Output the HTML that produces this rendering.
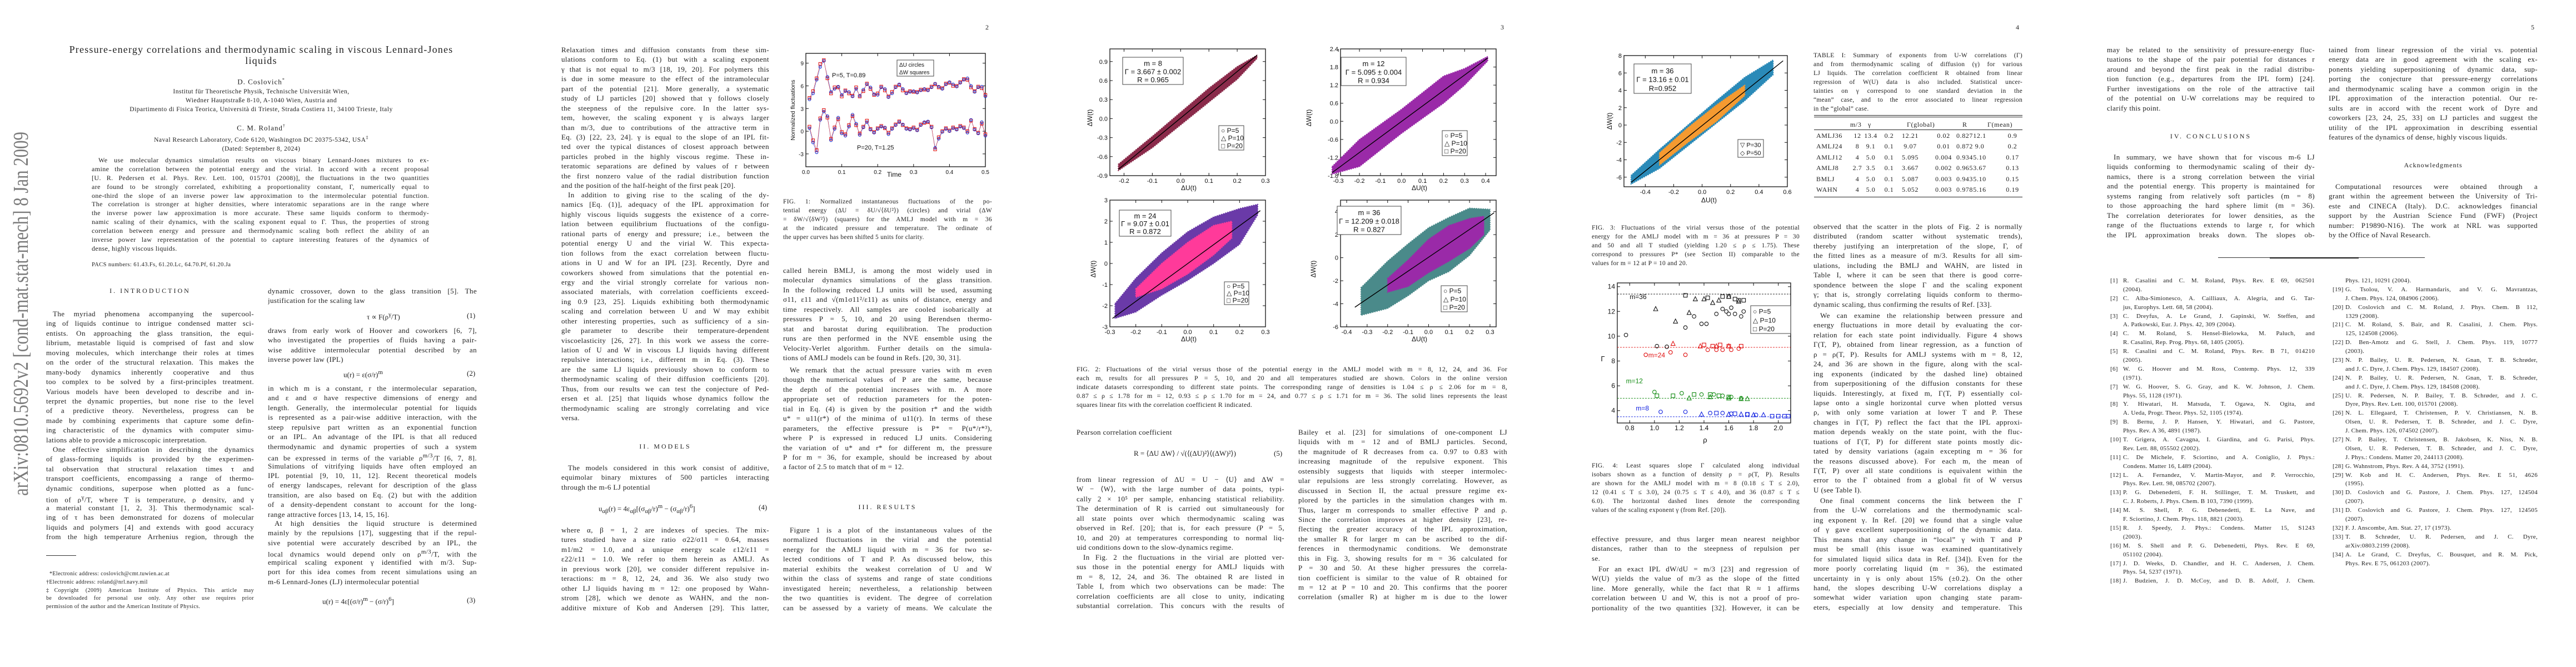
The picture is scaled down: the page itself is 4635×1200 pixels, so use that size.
<!DOCTYPE html>
<html><head><meta charset="utf-8"><title>Pressure-energy correlations and thermodynamic scaling in viscous Lennard-Jones liquids</title>
<style>
body{margin:0;width:4635px;height:1200px;position:relative;background:#fff;overflow:hidden;font-family:"Liberation Serif",serif;color:#1e1e1e}
.pg{position:absolute;top:0;width:927px;height:1200px}
.b{position:absolute;font-size:13px;letter-spacing:.4px;line-height:17.45px}
.b span{display:block;height:17.45px;overflow:hidden;text-align:justify;text-align-last:justify}
.b span.e{text-align-last:left}
.b span.i{text-indent:12px}
.L{left:83px;width:374px}.R{left:482px;width:376px}
.cap{font-size:11.5px;line-height:16px;letter-spacing:.3px}
.cap span{height:16px}
.ref{font-size:11px;line-height:15.9px;letter-spacing:.3px}
.ref span{height:15.9px;overflow:visible;position:relative}
.ref b{font-weight:normal;position:absolute;left:-23px}
.c{position:absolute;text-align:center;white-space:nowrap}
.h{position:absolute;font-size:12px;letter-spacing:3px;text-align:center;white-space:nowrap}
.eq{position:absolute;font-size:13px;white-space:nowrap}
.pn{position:absolute;left:846px;top:42px;font-size:12px}
.tb{position:absolute;font-size:12px;letter-spacing:.6px;white-space:nowrap}
</style></head>
<body>

<!-- PAGE 1 -->
<div class="pg" style="left:0">
<svg style="position:absolute;left:0;top:0" width="80" height="1200"><text x="50" y="892" transform="rotate(-90 50 892)" font-family="Liberation Serif" font-size="38" fill="#7a7a7a" textLength="655" lengthAdjust="spacingAndGlyphs">arXiv:0810.5692v2  [cond-mat.stat-mech]  8 Jan 2009</text></svg>
<div class="c" style="left:0;width:940px;top:79px;font-size:18px;letter-spacing:1.2px;line-height:20px">Pressure-energy correlations and thermodynamic scaling in viscous Lennard-Jones<br>liquids</div>
<div class="c" style="left:0;width:940px;top:139px;font-size:13px;letter-spacing:1px">D. Coslovich<sup style="font-size:8px">*</sup></div>
<div class="c" style="left:0;width:940px;top:157px;font-size:11.5px;letter-spacing:.5px;line-height:16px">Institut für Theoretische Physik, Technische Universität Wien,<br>Wiedner Hauptstraße 8-10, A-1040 Wien, Austria and<br>Dipartimento di Fisica Teorica, Università di Trieste, Strada Costiera 11, 34100 Trieste, Italy</div>
<div class="c" style="left:0;width:940px;top:222px;font-size:13px;letter-spacing:1px">C. M. Roland<sup style="font-size:8px">†</sup></div>
<div class="c" style="left:0;width:940px;top:240px;font-size:11.5px;letter-spacing:.5px;line-height:16px">Naval Research Laboratory, Code 6120, Washington DC 20375-5342, USA<sup style="font-size:8px">‡</sup><br>(Dated: September 8, 2024)</div>
<div class="b" style="left:165px;width:607px;top:281px;font-size:12px;line-height:15.9px">
<span class="i" style="height:15.9px">We use molecular dynamics simulation results on viscous binary Lennard-Jones mixtures to ex-</span>
<span style="height:15.9px">amine the correlation between the potential energy and the virial. In accord with a recent proposal</span>
<span style="height:15.9px">[U. R. Pedersen et al. Phys. Rev. Lett. 100, 015701 (2008)], the fluctuations in the two quantities</span>
<span style="height:15.9px">are found to be strongly correlated, exhibiting a proportionality constant, Γ, numerically equal to</span>
<span style="height:15.9px">one-third the slope of an inverse power law approximation to the intermolecular potential function.</span>
<span style="height:15.9px">The correlation is stronger at higher densities, where interatomic separations are in the range where</span>
<span style="height:15.9px">the inverse power law approximation is more accurate. These same liquids conform to thermody-</span>
<span style="height:15.9px">namic scaling of their dynamics, with the scaling exponent equal to Γ. Thus, the properties of strong</span>
<span style="height:15.9px">correlation between energy and pressure and thermodynamic scaling both reflect the ability of an</span>
<span style="height:15.9px">inverse power law representation of the potential to capture interesting features of the dynamics of</span>
<span class="e" style="height:15.9px">dense, highly viscous liquids.</span>
</div>
<div class="eq" style="left:165px;top:471px;font-size:10.5px;letter-spacing:.4px">PACS numbers: 61.43.Fs, 61.20.Lc, 64.70.Pf, 61.20.Ja</div>
<div class="h" style="left:83px;width:374px;top:516px">I. INTRODUCTION</div>
<div class="b L" style="top:556px">
<span class="i">The myriad phenomena accompanying the supercool-</span>
<span>ing of liquids continue to intrigue condensed matter sci-</span>
<span>entists. On approaching the glass transition, the equi-</span>
<span>librium, metastable liquid is comprised of fast and slow</span>
<span>moving molecules, which interchange their roles at times</span>
<span>on the order of the structural relaxation. This makes the</span>
<span>many-body dynamics inherently cooperative and thus</span>
<span>too complex to be solved by a first-principles treatment.</span>
<span>Various models have been developed to describe and in-</span>
<span>terpret the dynamic properties, but none rise to the level</span>
<span>of a predictive theory. Nevertheless, progress can be</span>
<span>made by combining experiments that capture some defin-</span>
<span>ing characteristic of the dynamics with computer simu-</span>
<span class="e">lations able to provide a microscopic interpretation.</span>
</div>
<div class="b L" style="top:800px">
<span class="i">One effective simplification in describing the dynamics</span>
<span>of glass-forming liquids is provided by the experimen-</span>
<span>tal observation that structural relaxation times τ and</span>
<span>transport coefficients, encompassing a range of thermo-</span>
<span>dynamic conditions, superpose when plotted as a func-</span>
<span>tion of ρ<sup>γ</sup>/T, where T is temperature, ρ density, and γ</span>
<span>a material constant [1, 2, 3]. This thermodynamic scal-</span>
<span>ing of τ has been demonstrated for dozens of molecular</span>
<span>liquids and polymers [4] and extends with good accuracy</span>
<span>from the high temperature Arrhenius region, through the</span>
</div>
<div style="position:absolute;left:83px;top:999px;width:54px;border-top:1px solid #333"></div>
<div class="b" style="left:83px;width:374px;top:1026px;font-size:10px;line-height:14.8px">
<span class="e" style="height:14.8px;text-indent:6px">*Electronic address: coslovich@cmt.tuwien.ac.at</span>
<span class="e" style="height:14.8px">†Electronic address: roland@nrl.navy.mil</span>
<span style="height:14.8px">‡Copyright (2009) American Institute of Physics. This article may</span>
<span style="height:14.8px">be downloaded for personal use only. Any other use requires prior</span>
<span class="e" style="height:14.8px">permission of the author and the American Institute of Physics.</span>
</div>
<div class="b R" style="top:515px">
<span>dynamic crossover, down to the glass transition [5]. The</span>
<span class="e">justification for the scaling law</span>
</div>
<div class="eq" style="left:660px;top:560px">τ ∝ F(ρ<sup>γ</sup>/T)</div>
<div class="eq" style="left:840px;top:560px">(1)</div>
<div class="b R" style="top:586px">
<span>draws from early work of Hoover and coworkers [6, 7],</span>
<span>who investigated the properties of fluids having a pair-</span>
<span>wise additive intermolecular potential described by an</span>
<span class="e">inverse power law (IPL)</span>
</div>
<div class="eq" style="left:618px;top:664px">u(r) = ε(σ/r)<sup>m</sup></div>
<div class="eq" style="left:840px;top:664px">(2)</div>
<div class="b R" style="top:690px">
<span>in which m is a constant, r the intermolecular separation,</span>
<span>and ε and σ have respective dimensions of energy and</span>
<span>length. Generally, the intermolecular potential for liquids</span>
<span>is represented as a pair-wise additive interaction, with the</span>
<span>steep repulsive part written as an exponential function</span>
<span>or an IPL. An advantage of the IPL is that all reduced</span>
<span>thermodynamic and dynamic properties of such a system</span>
<span>can be expressed in terms of the variable ρ<sup>m/3</sup>/T [6, 7, 8].</span>
<span>Simulations of vitrifying liquids have often employed an</span>
<span>IPL potential [9, 10, 11, 12]. Recent theoretical models</span>
<span>of energy landscapes, relevant for description of the glass</span>
<span>transition, are also based on Eq. (2) but with the addition</span>
<span>of a density-dependent constant to account for the long-</span>
<span class="e">range attractive forces [13, 14, 15, 16].</span>
</div>
<div class="b R" style="top:933px">
<span class="i">At high densities the liquid structure is determined</span>
<span>mainly by the repulsions [17], suggesting that if the repul-</span>
<span>sive potential were accurately described by an IPL, the</span>
<span>local dynamics would depend only on ρ<sup>m/3</sup>/T, with the</span>
<span>empirical scaling exponent γ identified with m/3. Sup-</span>
<span>port for this idea comes from recent simulations using an</span>
<span class="e">m-6 Lennard-Jones (LJ) intermolecular potential</span>
</div>
<div class="eq" style="left:580px;top:1072px">u(r) = 4ε[(σ/r)<sup>m</sup> − (σ/r)<sup>6</sup>]</div>
<div class="eq" style="left:840px;top:1072px">(3)</div>
</div>

<!-- PAGE 2 -->
<div class="pg" style="left:927px">
<div class="pn">2</div>
<div class="b L" style="top:81px">
<span>Relaxation times and diffusion constants from these sim-</span>
<span>ulations conform to Eq. (1) but with a scaling exponent</span>
<span>γ that is not equal to m/3 [18, 19, 20]. For polymers this</span>
<span>is due in some measure to the effect of the intramolecular</span>
<span>part of the potential [21]. More generally, a systematic</span>
<span>study of LJ particles [20] showed that γ follows closely</span>
<span>the steepness of the repulsive core. In the latter sys-</span>
<span>tem, however, the scaling exponent γ is always larger</span>
<span>than m/3, due to contributions of the attractive term in</span>
<span>Eq. (3) [22, 23, 24]. γ is equal to the slope of an IPL fit-</span>
<span>ted over the typical distances of closest approach between</span>
<span>particles probed in the highly viscous regime. These in-</span>
<span>teratomic separations are defined by values of r between</span>
<span>the first nonzero value of the radial distribution function</span>
<span class="e">and the position of the half-height of the first peak [20].</span>
</div>
<div class="b L" style="top:342px">
<span class="i">In addition to giving rise to the scaling of the dy-</span>
<span>namics [Eq. (1)], adequacy of the IPL approximation for</span>
<span>highly viscous liquids suggests the existence of a corre-</span>
<span>lation between equilibrium fluctuations of the configu-</span>
<span>rational parts of energy and pressure; i.e., between the</span>
<span>potential energy U and the virial W. This expecta-</span>
<span>tion follows from the exact correlation between fluctu-</span>
<span>ations in U and W for an IPL [23]. Recently, Dyre and</span>
<span>coworkers showed from simulations that the potential en-</span>
<span>ergy and the virial strongly correlate for various non-</span>
<span>associated materials, with correlation coefficients exceed-</span>
<span>ing 0.9 [23, 25]. Liquids exhibiting both thermodynamic</span>
<span>scaling and correlation between U and W may exhibit</span>
<span>other interesting properties, such as sufficiency of a sin-</span>
<span>gle parameter to describe their temperature-dependent</span>
<span>viscoelasticity [26, 27]. In this work we assess the corre-</span>
<span>lation of U and W in viscous LJ liquids having different</span>
<span>repulsive interactions; i.e., different m in Eq. (3). These</span>
<span>are the same LJ liquids previously shown to conform to</span>
<span>thermodynamic scaling of their diffusion coefficients [20].</span>
<span>Thus, from our results we can test the conjecture of Ped-</span>
<span>ersen et al. [25] that liquids whose dynamics follow the</span>
<span>thermodynamic scaling are strongly correlating and vice</span>
<span class="e">versa.</span>
</div>
<div class="h" style="left:83px;width:374px;top:796px">II. MODELS</div>
<div class="b L" style="top:833px">
<span class="i">The models considered in this work consist of additive,</span>
<span>equimolar binary mixtures of 500 particles interacting</span>
<span class="e">through the m-6 LJ potential</span>
</div>
<div class="eq" style="left:150px;top:905px">u<sub>αβ</sub>(r) = 4ε<sub>αβ</sub>[(σ<sub>αβ</sub>/r)<sup>m</sup> − (σ<sub>αβ</sub>/r)<sup>6</sup>]</div>
<div class="eq" style="left:438px;top:905px">(4)</div>
<div class="b L" style="top:945px">
<span>where α, β = 1, 2 are indexes of species. The mix-</span>
<span>tures studied have a size ratio σ22/σ11 = 0.64, masses</span>
<span>m1/m2 = 1.0, and a unique energy scale ε12/ε11 =</span>
<span>ε22/ε11 = 1.0. We refer to them herein as AMLJ. As</span>
<span>in previous work [20], we consider different repulsive in-</span>
<span>teractions: m = 8, 12, 24, and 36. We also study two</span>
<span>other LJ liquids having m = 12: one proposed by Wahn-</span>
<span>strom [28], which we denote as WAHN, and the non-</span>
<span>additive mixture of Kob and Andersen [29]. This latter,</span>
</div>
<div class="b R cap" style="top:355px">
<span>FIG. 1: Normalized instantaneous fluctuations of the po-</span>
<span>tential energy (ΔU = δU/√⟨δU²⟩) (circles) and virial (ΔW</span>
<span>= δW/√⟨δW²⟩) (squares) for the AMLJ model with m = 36</span>
<span>at the indicated pressure and temperature. The ordinate of</span>
<span class="e">the upper curves has been shifted 5 units for clarity.</span>
</div>
<div class="b R" style="top:478px">
<span>called herein BMLJ, is among the most widely used in</span>
<span>molecular dynamics simulations of the glass transition.</span>
<span>In the following reduced LJ units will be used, assuming</span>
<span>σ11, ε11 and √(m1σ11²/ε11) as units of distance, energy and</span>
<span>time respectively. All samples are cooled isobarically at</span>
<span>pressures P = 5, 10, and 20 using Berendsen thermo-</span>
<span>stat and barostat during equilibration. The production</span>
<span>runs are then performed in the NVE ensemble using the</span>
<span>Velocity-Verlet algorithm. Further details on the simula-</span>
<span class="e">tions of AMLJ models can be found in Refs. [20, 30, 31].</span>
</div>
<div class="b R" style="top:657px">
<span class="i">We remark that the actual pressure varies with m even</span>
<span>though the numerical values of P are the same, because</span>
<span>the depth of the potential increases with m. A more</span>
<span>appropriate set of reduction parameters for the poten-</span>
<span>tial in Eq. (4) is given by the position r* and the width</span>
<span>u* = u11(r*) of the minima of u11(r). In terms of these</span>
<span>parameters, the effective pressure is P* = P(u*/r*³),</span>
<span>where P is expressed in reduced LJ units. Considering</span>
<span>the variation of u* and r* for different m, the pressure</span>
<span>P for m = 36, for example, should be increased by about</span>
<span class="e">a factor of 2.5 to match that of m = 12.</span>
</div>
<div class="h" style="left:482px;width:376px;top:905px">III. RESULTS</div>
<div class="b R" style="top:945px">
<span class="i">Figure 1 is a plot of the instantaneous values of the</span>
<span>normalized fluctuations in the virial and the potential</span>
<span>energy for the AMLJ liquid with m = 36 for two se-</span>
<span>lected conditions of T and P. As discussed below, this</span>
<span>material exhibits the weakest correlation of U and W</span>
<span>within the class of systems and range of state conditions</span>
<span>investigated herein; nevertheless, a relationship between</span>
<span>the two quantities is evident. The degree of correlation</span>
<span>can be assessed by a variety of means. We calculate the</span>
</div>
</div>

<!-- PAGE 3 -->
<div class="pg" style="left:1854px">
<div class="pn">3</div>
<div class="b cap" style="left:83px;width:775px;top:656px;font-size:12px">
<span>FIG. 2: Fluctuations of the virial versus those of the potential energy in the AMLJ model with m = 8, 12, 24, and 36. For</span>
<span>each m, results for all pressures P = 5, 10, and 20 and all temperatures studied are shown. Colors in the online version</span>
<span>indicate datasets corresponding to different state points. The corresponding range of densities is 1.04 ≤ ρ ≤ 2.06 for m = 8,</span>
<span>0.87 ≤ ρ ≤ 1.78 for m = 12, 0.93 ≤ ρ ≤ 1.70 for m = 24, and 0.77 ≤ ρ ≤ 1.71 for m = 36. The solid lines represents the least</span>
<span class="e">squares linear fits with the correlation coefficient R indicated.</span>
</div>
<div class="b L" style="top:769px"><span class="e">Pearson correlation coefficient</span></div>
<div class="eq" style="left:186px;top:808px">R = ⟨ΔU ΔW⟩ / √(⟨(ΔU)²⟩⟨(ΔW)²⟩)</div>
<div class="eq" style="left:438px;top:808px">(5)</div>
<div class="b L" style="top:854px">
<span>from linear regression of ΔU = U − ⟨U⟩ and ΔW =</span>
<span>W − ⟨W⟩, with the large number of data points, typi-</span>
<span>cally 2 × 10⁵ per sample, enhancing statistical reliability.</span>
<span>The determination of R is carried out simultaneously for</span>
<span>all state points over which thermodynamic scaling was</span>
<span>observed in Ref. [20]; that is, for each pressure (P = 5,</span>
<span>10, and 20) at temperatures corresponding to normal liq-</span>
<span class="e">uid conditions down to the slow-dynamics regime.</span>
</div>
<div class="b L" style="top:994px">
<span class="i">In Fig. 2 the fluctuations in the virial are plotted ver-</span>
<span>sus those in the potential energy for AMLJ liquids with</span>
<span>m = 8, 12, 24, and 36. The obtained R are listed in</span>
<span>Table I, from which two observations can be made: The</span>
<span>correlation coefficients are all close to unity, indicating</span>
<span>substantial correlation. This concurs with the results of</span>
</div>
<div class="b R" style="top:769px">
<span>Bailey et al. [23] for simulations of one-component LJ</span>
<span>liquids with m = 12 and of BMLJ particles. Second,</span>
<span>the magnitude of R decreases from ca. 0.97 to 0.83 with</span>
<span>increasing magnitude of the repulsive exponent. This</span>
<span>ostensibly suggests that liquids with steeper intermolec-</span>
<span>ular repulsions are less strongly correlating. However, as</span>
<span>discussed in Section II, the actual pressure regime ex-</span>
<span>plored by the particles in the simulation changes with m.</span>
<span>Thus, larger m corresponds to smaller effective P and ρ.</span>
<span>Since the correlation improves at higher density [23], re-</span>
<span>flecting the greater accuracy of the IPL approximation,</span>
<span>the smaller R for larger m can be ascribed to the dif-</span>
<span>ferences in thermodynamic conditions. We demonstrate</span>
<span>this in Fig. 3, showing results for m = 36 calculated for</span>
<span>P = 30 and 50. At these higher pressures the correla-</span>
<span>tion coefficient is similar to the value of R obtained for</span>
<span>m = 12 at P = 10 and 20. This confirms that the poorer</span>
<span>correlation (smaller R) at higher m is due to the lower</span>
</div>
</div>

<!-- PAGE 4 -->
<div class="pg" style="left:2781px">
<div class="pn">4</div>
<div class="b L cap" style="top:402px">
<span>FIG. 3: Fluctuations of the virial versus those of the potential</span>
<span>energy for the AMLJ model with m = 36 at pressures P = 30</span>
<span>and 50 and all T studied (yielding 1.20 ≤ ρ ≤ 1.75). These</span>
<span>correspond to pressures P* (see Section II) comparable to the</span>
<span class="e">values for m = 12 at P = 10 and 20.</span>
</div>
<div class="b L cap" style="top:830px">
<span>FIG. 4: Least squares slope Γ calculated along individual</span>
<span>isobars shown as a function of density ρ = ρ(T, P). Results</span>
<span>are shown for the AMLJ model with m = 8 (0.18 ≤ T ≤ 2.0),</span>
<span>12 (0.41 ≤ T ≤ 3.0), 24 (0.75 ≤ T ≤ 4.0), and 36 (0.87 ≤ T ≤</span>
<span>6.0). The horizontal dashed lines denote the corresponding</span>
<span class="e">values of the scaling exponent γ (from Ref. [20]).</span>
</div>
<div class="b L" style="top:961px">
<span>effective pressure, and thus larger mean nearest neighbor</span>
<span>distances, rather than to the steepness of repulsion per</span>
<span class="e">se.</span>
</div>
<div class="b L" style="top:1015px">
<span class="i">For an exact IPL dW/dU = m/3 [23] and regression of</span>
<span>W(U) yields the value of m/3 as the slope of the fitted</span>
<span>line. More generally, while the fact that R ≈ 1 affirms</span>
<span>correlation between U and W, this is not a proof of pro-</span>
<span>portionality of the two quantities [32]. However, it can be</span>
</div>
<div class="b R cap" style="top:92px">
<span>TABLE I: Summary of exponents from U-W correlations (Γ)</span>
<span>and from thermodynamic scaling of diffusion (γ) for various</span>
<span>LJ liquids. The correlation coefficient R obtained from linear</span>
<span>regression of W(U) data is also included. Statistical uncer-</span>
<span>tainties on γ correspond to one standard deviation in the</span>
<span>“mean” case, and to the error associated to linear regression</span>
<span class="e">in the “global” case.</span>
</div>
<div>
<div style="position:absolute;left:483px;width:375px;top:207px;height:2px;border-top:1px solid #222;border-bottom:1px solid #222"></div>
<div style="position:absolute;left:483px;width:375px;top:233px;border-top:1px solid #222"></div>
<div style="position:absolute;left:483px;width:375px;top:354px;border-top:1px solid #222"></div>
<div class="tb" style="left:548px;top:217px">m/3</div>
<div class="tb" style="left:580px;top:217px">γ</div>
<div class="tb" style="left:650px;top:217px">Γ(global)</div>
<div class="tb" style="left:750px;top:217px">R</div>
<div class="tb" style="left:795px;top:217px">Γ(mean)</div>
<div id="tablerows"></div>
</div>
<div class="b R" style="top:399px">
<span>observed that the scatter in the plots of Fig. 2 is normally</span>
<span>distributed (random scatter without systematic trends),</span>
<span>thereby justifying an interpretation of the slope, Γ, of</span>
<span>the fitted lines as a measure of m/3. Results for all sim-</span>
<span>ulations, including the BMLJ and WAHN, are listed in</span>
<span>Table I, where it can be seen that there is good corre-</span>
<span>spondence between the slope Γ and the scaling exponent</span>
<span>γ; that is, strongly correlating liquids conform to thermo-</span>
<span class="e">dynamic scaling, thus confirming the results of Ref. [33].</span>
</div>
<div class="b R" style="top:559px">
<span class="i">We can examine the relationship between pressure and</span>
<span>energy fluctuations in more detail by evaluating the cor-</span>
<span>relation for each state point individually. Figure 4 shows</span>
<span>Γ(T, P), obtained from linear regression, as a function of</span>
<span>ρ = ρ(T, P). Results for AMLJ systems with m = 8, 12,</span>
<span>24, and 36 are shown in the figure, along with the scal-</span>
<span>ing exponents (indicated by the dashed line) obtained</span>
<span>from superpositioning of the diffusion constants for these</span>
<span>liquids. Interestingly, at fixed m, Γ(T, P) essentially col-</span>
<span>lapse onto a single horizontal curve when plotted versus</span>
<span>ρ, with only some variation at lower T and P. These</span>
<span>changes in Γ(T, P) reflect the fact that the IPL approxi-</span>
<span>mation depends weakly on the state point, with the fluc-</span>
<span>tuations of Γ(T, P) for different state points mostly dic-</span>
<span>tated by density variations (again excepting m = 36 for</span>
<span>the reasons discussed above). For each m, the mean of</span>
<span>Γ(T, P) over all state conditions is equivalent within the</span>
<span>error to the Γ obtained from a global fit of W versus</span>
<span class="e">U (see Table I).</span>
</div>
<div class="b R" style="top:892px">
<span class="i">One final comment concerns the link between the Γ</span>
<span>from the U-W correlations and the thermodynamic scal-</span>
<span>ing exponent γ. In Ref. [20] we found that a single value</span>
<span>of γ gave excellent superpositioning of the dynamic data.</span>
<span>This means that any change in “local” γ with T and P</span>
<span>must be small (this issue was examined quantitatively</span>
<span>for simulated liquid silica data in Ref. [34]). Even for the</span>
<span>more poorly correlating liquid (m = 36), the estimated</span>
<span>uncertainty in γ is only about 15% (±0.2). On the other</span>
<span>hand, the slopes describing U-W correlations display a</span>
<span>somewhat wider variation upon changing state param-</span>
<span>eters, especially at low density and temperature. This</span>
</div>
</div>

<!-- PAGE 5 -->
<div class="pg" style="left:3708px">
<div class="pn">5</div>
<div class="b L" style="top:81px">
<span>may be related to the sensitivity of pressure-energy fluc-</span>
<span>tuations to the shape of the pair potential for distances r</span>
<span>around and beyond the first peak in the radial distribu-</span>
<span>tion function (e.g., departures from the IPL form) [24].</span>
<span>Further investigations on the role of the attractive tail</span>
<span>of the potential on U-W correlations may be required to</span>
<span class="e">clarify this point.</span>
</div>
<div class="h" style="left:83px;width:374px;top:238px">IV. CONCLUSIONS</div>
<div class="b L" style="top:274px">
<span class="i">In summary, we have shown that for viscous m-6 LJ</span>
<span>liquids conforming to thermodynamic scaling of their dy-</span>
<span>namics, there is a strong correlation between the virial</span>
<span>and the potential energy. This property is maintained for</span>
<span>systems ranging from relatively soft particles (m = 8)</span>
<span>to those approaching the hard sphere limit (m = 36).</span>
<span>The correlation deteriorates for lower densities, as the</span>
<span>range of the fluctuations extends to large r, for which</span>
<span>the IPL approximation breaks down. The slopes ob-</span>
</div>
<div class="b R" style="top:81px">
<span>tained from linear regression of the virial vs. potential</span>
<span>energy data are in good agreement with the scaling ex-</span>
<span>ponents yielding superpositioning of dynamic data, sup-</span>
<span>porting the conjecture that pressure-energy correlations</span>
<span>and thermodynamic scaling have a common origin in the</span>
<span>IPL approximation of the interaction potential. Our re-</span>
<span>sults are in accord with the recent work of Dyre and</span>
<span>coworkers [23, 24, 25, 33] on LJ particles and suggest the</span>
<span>utility of the IPL approximation in describing essential</span>
<span class="e">features of the dynamics of dense, highly viscous liquids.</span>
</div>
<div class="c" style="left:482px;width:376px;top:290px;font-size:12px;letter-spacing:1px">Acknowledgments</div>
<div class="b R" style="top:327px">
<span class="i">Computational resources were obtained through a</span>
<span>grant within the agreement between the University of Tri-</span>
<span>este and CINECA (Italy). D.C. acknowledges financial</span>
<span>support by the Austrian Science Fund (FWF) (Project</span>
<span>number: P19890-N16). The work at NRL was supported</span>
<span class="e">by the Office of Naval Research.</span>
</div>
<div style="position:absolute;left:283px;width:372px;top:463px;border-top:1px solid #333"></div>
<div style="position:absolute;left:376px;width:160px;top:463px;border-top:2px solid #111"></div>
<div class="b ref" style="left:112px;width:345px;top:498px">
<span><b>[1]</b>R. Casalini and C. M. Roland, Phys. Rev. E 69, 062501</span><span class="e">(2004).</span>
<span><b>[2]</b>C. Alba-Simionesco, A. Cailliaux, A. Alegria, and G. Tar-</span><span class="e">jus, Europhys. Lett. 68, 58 (2004).</span>
<span><b>[3]</b>C. Dreyfus, A. Le Grand, J. Gapinski, W. Steffen, and</span><span class="e">A. Patkowski, Eur. J. Phys. 42, 309 (2004).</span>
<span><b>[4]</b>C. M. Roland, S. Hensel-Bielowka, M. Paluch, and</span><span class="e">R. Casalini, Rep. Prog. Phys. 68, 1405 (2005).</span>
<span><b>[5]</b>R. Casalini and C. M. Roland, Phys. Rev. B 71, 014210</span><span class="e">(2005).</span>
<span><b>[6]</b>W. G. Hoover and M. Ross, Contemp. Phys. 12, 339</span><span class="e">(1971).</span>
<span><b>[7]</b>W. G. Hoover, S. G. Gray, and K. W. Johnson, J. Chem.</span><span class="e">Phys. 55, 1128 (1971).</span>
<span><b>[8]</b>Y. Hiwatari, H. Matsuda, T. Ogawa, N. Ogita, and</span><span class="e">A. Ueda, Progr. Theor. Phys. 52, 1105 (1974).</span>
<span><b>[9]</b>B. Bernu, J. P. Hansen, Y. Hiwatari, and G. Pastore,</span><span class="e">Phys. Rev. A 36, 4891 (1987).</span>
<span><b>[10]</b>T. Grigera, A. Cavagna, I. Giardina, and G. Parisi, Phys.</span><span class="e">Rev. Lett. 88, 055502 (2002).</span>
<span><b>[11]</b>C. De Michele, F. Sciortino, and A. Coniglio, J. Phys.:</span><span class="e">Condens. Matter 16, L489 (2004).</span>
<span><b>[12]</b>L. A. Fernandez, V. Martin-Mayor, and P. Verrocchio,</span><span class="e">Phys. Rev. Lett. 98, 085702 (2007).</span>
<span><b>[13]</b>P. G. Debenedetti, F. H. Stillinger, T. M. Truskett, and</span><span class="e">C. J. Roberts, J. Phys. Chem. B 103, 7390 (1999).</span>
<span><b>[14]</b>M. S. Shell, P. G. Debenedetti, E. La Nave, and</span><span class="e">F. Sciortino, J. Chem. Phys. 118, 8821 (2003).</span>
<span><b>[15]</b>R. J. Speedy, J. Phys.: Condens. Matter 15, S1243</span><span class="e">(2003).</span>
<span><b>[16]</b>M. S. Shell and P. G. Debenedetti, Phys. Rev. E 69,</span><span class="e">051102 (2004).</span>
<span><b>[17]</b>J. D. Weeks, D. Chandler, and H. C. Andersen, J. Chem.</span><span class="e">Phys. 54, 5237 (1971).</span>
<span><b>[18]</b>J. Budzien, J. D. McCoy, and D. B. Adolf, J. Chem.</span>
</div>
<div class="b ref" style="left:512px;width:346px;top:498px">
<span class="e">Phys. 121, 10291 (2004).</span>
<span><b>[19]</b>G. Tsolou, V. A. Harmandaris, and V. G. Mavrantzas,</span><span class="e">J. Chem. Phys. 124, 084906 (2006).</span>
<span><b>[20]</b>D. Coslovich and C. M. Roland, J. Phys. Chem. B 112,</span><span class="e">1329 (2008).</span>
<span><b>[21]</b>C. M. Roland, S. Bair, and R. Casalini, J. Chem. Phys.</span><span class="e">125, 124508 (2006).</span>
<span><b>[22]</b>D. Ben-Amotz and G. Stell, J. Chem. Phys. 119, 10777</span><span class="e">(2003).</span>
<span><b>[23]</b>N. P. Bailey, U. R. Pedersen, N. Gnan, T. B. Schrøder,</span><span class="e">and J. C. Dyre, J. Chem. Phys. 129, 184507 (2008).</span>
<span><b>[24]</b>N. P. Bailey, U. R. Pedersen, N. Gnan, T. B. Schrøder,</span><span class="e">and J. C. Dyre, J. Chem. Phys. 129, 184508 (2008).</span>
<span><b>[25]</b>U. R. Pedersen, N. P. Bailey, T. B. Schrøder, and J. C.</span><span class="e">Dyre, Phys. Rev. Lett. 100, 015701 (2008).</span>
<span><b>[26]</b>N. L. Ellegaard, T. Christensen, P. V. Christiansen, N. B.</span><span>Olsen, U. R. Pedersen, T. B. Schrøder, and J. C. Dyre,</span><span class="e">J. Chem. Phys. 126, 074502 (2007).</span>
<span><b>[27]</b>N. P. Bailey, T. Christensen, B. Jakobsen, K. Niss, N. B.</span><span>Olsen, U. R. Pedersen, T. B. Schrøder, and J. C. Dyre,</span><span class="e">J. Phys.: Condens. Matter 20, 244113 (2008).</span>
<span class="e"><b>[28]</b>G. Wahnstrom, Phys. Rev. A 44, 3752 (1991).</span>
<span><b>[29]</b>W. Kob and H. C. Andersen, Phys. Rev. E 51, 4626</span><span class="e">(1995).</span>
<span><b>[30]</b>D. Coslovich and G. Pastore, J. Chem. Phys. 127, 124504</span><span class="e">(2007).</span>
<span><b>[31]</b>D. Coslovich and G. Pastore, J. Chem. Phys. 127, 124505</span><span class="e">(2007).</span>
<span class="e"><b>[32]</b>F. J. Anscombe, Am. Stat. 27, 17 (1973).</span>
<span><b>[33]</b>T. B. Schrøder, U. R. Pedersen, and J. C. Dyre,</span><span class="e">arXiv:0803.2199 (2008).</span>
<span><b>[34]</b>A. Le Grand, C. Dreyfus, C. Bousquet, and R. M. Pick,</span><span class="e">Phys. Rev. E 75, 061203 (2007).</span>
</div>
</div>

<svg id="charts" style="position:absolute;left:0;top:0" width="4635" height="1200"></svg>

<script>
// ===== Table I data =====
const tableNames=['AMLJ36','AMLJ24','AMLJ12','AMLJ8','BMLJ','WAHN'];
const tableM3=['12','8','4','2.7','4','4'];
const tableGamma=['13.4','9.1','5.0','3.5','5.0','5.0'];
const tableGammaErr=['0.2','0.1','0.1','0.1','0.1','0.1'];
const tableGlobal=['12.21','9.07','5.095','3.667','5.087','5.052'];
const tableGlobalErr=['0.02','0.01','0.004','0.002','0.003','0.003'];
const tableR=['0.827','0.872','0.934','0.965','0.943','0.978'];
const tableMean=['12.1','9.0','5.10','3.67','5.10','5.16'];
const tableMeanErr=['0.9','0.2','0.17','0.13','0.15','0.19'];

// ===== Fig 1 data =====
const fig1Time=[0.01,0.02,0.03,0.04,0.05,0.06,0.07,0.08,0.09,0.10,0.11,0.12,0.13,0.14,0.15,0.16,0.17,0.18,0.19,0.20,0.21,0.22,0.23,0.24,0.25,0.26,0.27,0.28,0.29,0.30,0.31,0.32,0.33,0.34,0.35,0.36,0.37,0.38,0.39,0.40,0.41,0.42,0.43,0.44,0.45,0.46,0.47,0.48,0.49,0.50];
const fig1UpperU=[4.2,5.0,6.8,8.5,9.3,7.2,5.2,5.6,5.9,4.8,5.3,5.2,4.6,5.6,4.7,5.5,6.2,5.8,4.9,4.8,5.8,5.6,4.5,5.0,5.8,6.2,5.6,5.0,5.2,5.3,5.1,5.4,5.6,5.4,5.8,6.3,5.9,5.6,6.2,6.5,6.2,5.9,6.4,6.8,7.0,6.0,5.2,5.8,5.9,4.6];
const fig1UpperW=[4.4,5.3,7.0,8.9,9.4,7.0,5.0,5.8,5.8,4.6,5.4,5.0,4.7,5.8,4.6,5.3,6.3,5.6,4.8,5.0,5.9,5.4,4.6,5.2,5.9,6.1,5.4,5.1,5.3,5.2,5.2,5.5,5.5,5.5,5.9,6.2,5.8,5.7,6.3,6.4,6.0,6.0,6.5,6.9,6.8,5.8,5.3,5.9,5.7,4.8];
const fig1LowerU=[0.4,-1.5,-2.8,1.5,2.6,2.0,-1.2,0.3,1.8,-0.3,-0.6,0.6,2.2,1.0,-0.5,0.5,1.2,0.2,-0.2,0.3,0.6,0.5,-0.4,0.3,0.8,1.2,0.9,0.3,0.2,0.4,0.1,0.8,1.2,1.3,0.5,-2.2,-1.0,-0.1,0.3,0.0,0.4,0.2,0.6,0.4,-0.2,1.5,0.2,-0.3,1.2,-0.6];
const fig1LowerW=[0.6,-1.2,-2.5,1.7,2.8,1.8,-1.0,0.5,1.6,-0.1,-0.4,0.8,2.0,0.8,-0.3,0.6,1.4,0.3,-0.1,0.4,0.7,0.4,-0.2,0.4,0.9,1.3,0.8,0.4,0.3,0.5,0.2,0.9,1.1,1.2,0.6,-2.4,-0.8,0.0,0.4,0.1,0.5,0.3,0.7,0.5,0.0,1.4,0.3,-0.2,1.0,-0.4];
const fig1XTicks=[0,0.1,0.2,0.3,0.4,0.5];
const fig1XLabels=['0.0','0.1','0.2','0.3','0.4','0.5'];
const fig1YTicks=[-3,0,3,6,9];
const fig1YLabels=['-3','0','3','6','9'];

// ===== Fig 2 data (bands = envelope of scatter cloud) =====
const fig2aBandX=[-0.22,-0.1,0,0.1,0.2,0.27];
const fig2aBandHi=[-0.72,-0.28,0.1,0.48,0.82,1.0];
const fig2aBandLo=[-0.82,-0.46,-0.1,0.26,0.62,0.95];
const fig2aFitX=[-0.22,0.27]; const fig2aFitY=[-0.8,1.0];
const fig2aXTicks=[-0.2,-0.1,0,0.1,0.2,0.3]; const fig2aXLabels=['-0.2','-0.1','0.0','0.1','0.2','0.3'];
const fig2aYTicks=[-0.9,-0.6,-0.3,0,0.3,0.6,0.9]; const fig2aYLabels=['-0.9','-0.6','-0.3','0.0','0.3','0.6','0.9'];

const fig2bBandX=[-0.33,-0.2,0,0.2,0.3,0.41];
const fig2bBandHi=[-1.5,-0.6,0.4,1.5,1.75,2.15];
const fig2bBandLo=[-1.75,-1.5,-0.4,0.6,1.2,2.0];
const fig2bFitX=[-0.33,0.41]; const fig2bFitY=[-1.7,2.1];
const fig2bXTicks=[-0.3,-0.2,-0.1,0,0.1,0.2,0.3,0.4]; const fig2bXLabels=['-0.3','-0.2','-0.1','0.0','0.1','0.2','0.3','0.4'];
const fig2bYTicks=[-1.8,-1.2,-0.6,0,0.6,1.2,1.8,2.4]; const fig2bYLabels=['-1.8','-1.2','-0.6','0.0','0.6','1.2','1.8','2.4'];

const fig2cBandX=[-0.28,-0.2,-0.1,0,0.1,0.2,0.27];
const fig2cBandHi=[-1.9,-0.7,0.5,1.5,2.2,2.6,2.8];
const fig2cBandLo=[-2.6,-2.3,-1.5,-0.8,0,0.9,2.3];
const fig2cCoreX=[-0.2,-0.1,0,0.1,0.17];
const fig2cCoreHi=[-1.2,0.0,1.0,1.8,2.0];
const fig2cCoreLo=[-1.6,-1.2,-0.5,0.4,1.2];
const fig2cFitX=[-0.29,0.28]; const fig2cFitY=[-2.6,2.5];
const fig2cXTicks=[-0.3,-0.2,-0.1,0,0.1,0.2,0.3]; const fig2cXLabels=['-0.3','-0.2','-0.1','0.0','0.1','0.2','0.3'];
const fig2cYTicks=[-3,-2,-1,0,1,2,3]; const fig2cYLabels=['-3','-2','-1','0','1','2','3'];

const fig2dBandX=[-0.33,-0.2,-0.1,0,0.1,0.2,0.3];
const fig2dBandHi=[-2.6,-0.3,1.2,2.6,3.5,4.3,4.2];
const fig2dBandLo=[-5.0,-4.4,-3.3,-2.0,-1.2,0.2,2.4];
const fig2dCoreX=[-0.2,-0.1,0,0.1,0.2,0.27];
const fig2dCoreHi=[-1.8,-0.2,1.6,2.8,3.4,3.6];
const fig2dCoreLo=[-3.0,-2.5,-1.3,-0.3,0.8,2.0];
const fig2dFitX=[-0.36,0.32]; const fig2dFitY=[-4.3,3.9];
const fig2dXTicks=[-0.4,-0.3,-0.2,-0.1,0,0.1,0.2,0.3]; const fig2dXLabels=['-0.4','-0.3','-0.2','-0.1','0.0','0.1','0.2','0.3'];
const fig2dYTicks=[-6,-4,-2,0,2,4]; const fig2dYLabels=['-6','-4','-2','0','2','4'];

// ===== Fig 3 data =====
const fig3BandX=[-0.5,-0.3,-0.1,0.1,0.3,0.5];
const fig3BandHi=[-5.8,-2.8,0.0,2.8,5.5,7.5];
const fig3BandLo=[-6.8,-5.0,-2.4,0.2,2.8,5.8];
const fig3CoreX=[-0.3,-0.1,0.1,0.3];
const fig3CoreHi=[-3.2,-0.3,2.3,4.6];
const fig3CoreLo=[-4.6,-2.0,0.4,3.4];
const fig3FitX=[-0.5,0.57]; const fig3FitY=[-6.6,7.4];
const fig3XTicks=[-0.4,-0.2,0,0.2,0.4,0.6]; const fig3XLabels=['-0.4','-0.2','0.0','0.2','0.4','0.6'];
const fig3YTicks=[-6,-4,-2,0,2,4,6,8]; const fig3YLabels=['-6','-4','-2','0','2','4','6','8'];

// ===== Fig 4 data =====
const fig4Gamma=[13.4,9.1,5.0,3.5];
const fig4Labels=['m=36','m=24','m=12','m=8'];
const fig4Colors=['#111','#e01010','#108a10','#1020e0'];
const fig4Rho36C=[0.77,1.02,1.10,1.25,1.32,1.38,1.42,1.50,1.55,1.58,1.60,1.62,1.65,1.70,1.72];
const fig4G36C=[10.1,9.2,9.15,10.7,11.6,11.0,11.0,11.8,12.2,12.0,11.8,12.3,11.8,11.6,12.0];
const fig4Rho36T=[1.01,1.17,1.28,1.33,1.40,1.47,1.52,1.60,1.68];
const fig4G36T=[12.2,11.2,11.9,13.0,13.0,12.7,12.9,13.2,12.8];
const fig4Rho36S=[1.25,1.43,1.55,1.60,1.65,1.68,1.72];
const fig4G36S=[13.3,13.1,13.2,13.2,13.0,12.9,12.9];
const fig4Rho24C=[0.93,1.13,1.25,1.43,1.50,1.55,1.62,1.68];
const fig4G24C=[8.5,8.7,8.5,8.9,8.9,8.9,8.9,9.0];
const fig4Rho24T=[1.15,1.37,1.50,1.60];
const fig4G24T=[9.4,9.2,9.2,9.2];
const fig4Rho24S=[1.40,1.47,1.53,1.60,1.70];
const fig4G24S=[9.3,9.2,9.3,9.2,9.2];
const fig4Rho12C=[1.00,1.22,1.38,1.48,1.55,1.62,1.70];
const fig4G12C=[5.5,5.4,5.3,5.3,5.2,5.1,5.0];
const fig4Rho12T=[1.28,1.45,1.60,1.70,1.75];
const fig4G12T=[5.0,5.1,5.0,4.95,4.95];
const fig4Rho12S=[1.02,1.15,1.32,1.45,1.52,1.60];
const fig4G12S=[5.2,5.2,5.3,5.3,5.2,5.1];
const fig4Rho8C=[1.05,1.25,1.45,1.55,1.62,1.75,1.82];
const fig4G8C=[3.9,3.9,3.8,3.8,3.75,3.7,3.65];
const fig4Rho8T=[1.38,1.60,1.70,1.80,1.88];
const fig4G8T=[3.7,3.7,3.7,3.65,3.65];
const fig4Rho8S=[1.50,1.65,1.75,1.95,2.00,2.05,2.08];
const fig4G8S=[3.8,3.75,3.7,3.55,3.55,3.55,3.55];
const fig4XTicks=[0.8,1.0,1.2,1.4,1.6,1.8,2.0]; const fig4XLabels=['0.8','1.0','1.2','1.4','1.6','1.8','2.0'];
const fig4YTicks=[4,6,8,10,12,14]; const fig4YLabels=['4','6','8','10','12','14'];

// ===== helpers =====
const NS='http://www.w3.org/2000/svg';
const svg=document.getElementById('charts');
function mk(tag,attrs,parent){const e=document.createElementNS(NS,tag);for(const k in attrs)e.setAttribute(k,attrs[k]);(parent||svg).appendChild(e);return e;}
function txt(parent,x,y,s,size,anchor,extra){const t=mk('text',Object.assign({x:x,y:y,'font-family':'Liberation Sans, sans-serif','font-size':size,'text-anchor':anchor||'middle',fill:'#111'},extra||{}),parent);t.textContent=s;return t;}

function panel(name,bx,by,bw,bh,x0,x1,y0,y1,xt,xl,yt,yl,fs){
  const g=mk('g',{});
  
  
  const X=v=>bx+(v-x0)/(x1-x0)*bw, Y=v=>by+bh-(v-y0)/(y1-y0)*bh;
  const fr=mk('rect',{x:bx,y:by,width:bw,height:bh,fill:'none',stroke:'#111','stroke-width':1.3},g);
  
  
  xt.forEach((v,i)=>{
    const tk=mk('path',{d:`M${X(v)},${by+bh}v-5M${X(v)},${by}v5`,stroke:'#111','stroke-width':1},g);
    
    
    const tl=txt(g,X(v),by+bh+13,xl[i],fs||11);
    
    
  });
  yt.forEach((v,i)=>{
    const tk=mk('path',{d:`M${bx},${Y(v)}h5M${bx+bw},${Y(v)}h-5`,stroke:'#111','stroke-width':1},g);
    
    
    const tl=txt(g,bx-4,Y(v)+4,yl[i],fs||11,'end');
    
    
  });
  return {g,X,Y};
}
function band(p,xs,hi,lo,fill,stroke,name){
  const pts=xs.map((x,i)=>p.X(x)+','+p.Y(hi[i])).concat(xs.map((x,i)=>p.X(x)+','+p.Y(lo[i])).reverse()).join(' ');
  const pg=mk('polygon',{points:pts,fill:fill,stroke:stroke,'stroke-width':2,'stroke-dasharray':'2 2','stroke-linejoin':'round'},p.g);
  
  
}
function fit(p,xs,ys,name){
  const l=mk('line',{x1:p.X(xs[0]),y1:p.Y(ys[0]),x2:p.X(xs[1]),y2:p.Y(ys[1]),stroke:'#000','stroke-width':1.4},p.g);
  
  
}
function infoBox(g,x,y,w,h,lines,fs){
  const r=mk('rect',{x:x,y:y,width:w,height:h,fill:'#fff',stroke:'#444','stroke-width':1},g);
  
  
  lines.forEach((s,i)=>{const t=txt(g,x+w/2,y+(i+1)*h/(lines.length+0.35)+1,s,fs||13);
    
    });
}
function legendBox(g,x,y,w,h,lines,fs){
  const r=mk('rect',{x:x,y:y,width:w,height:h,fill:'#fff',stroke:'#444','stroke-width':1},g);
  
  
  lines.forEach((s,i)=>{const t=txt(g,x+4,y+(i+1)*h/(lines.length+0.2)-1,s,fs||12,'start');
    
    });
}
function marker(g,shape,cx,cy,r,color){
  let e;
  if(shape==='c') e=mk('circle',{cx:cx,cy:cy,r:r,fill:'none',stroke:color,'stroke-width':1.1},g);
  else if(shape==='s') e=mk('rect',{x:cx-r,y:cy-r,width:2*r,height:2*r,fill:'none',stroke:color,'stroke-width':1.1},g);
  else e=mk('polygon',{points:`${cx},${cy-r-1} ${cx-r-0.5},${cy+r} ${cx+r+0.5},${cy+r}`,fill:'none',stroke:color,'stroke-width':1.1},g);
  return e;
}

// ===== Table rows =====
const tr=document.getElementById('tablerows');
const tableCols=[[487,'start'],[561,'c'],[585,'c'],[618,'c'],[656,'c'],[716,'c'],[754,'c'],[781,'c'],[840,'c']];
tableNames.forEach((n,i)=>{
  const vals=[n,tableM3[i],tableGamma[i],tableGammaErr[i],tableGlobal[i],tableGlobalErr[i],tableR[i],tableMean[i],tableMeanErr[i]];
  vals.forEach((v,j)=>{
    const d=document.createElement('div');
    d.className='tb';
    
    
    d.textContent=v;
    d.style.top=(237+i*19.4)+'px';
    if(tableCols[j][1]==='start'){d.style.left=tableCols[j][0]+'px';}
    else{d.style.left=(tableCols[j][0]-30)+'px';d.style.width='60px';d.style.textAlign='center';}
    tr.appendChild(d);
  });
});

// ===== Fig 1 =====
(function(){
  const p=panel('figure-1-plot',1450,96,323,204,0,0.5,-4.7,10.3,fig1XTicks,fig1XLabels,fig1YTicks,fig1YLabels,10);
  [[fig1UpperU,fig1UpperW],[fig1LowerU,fig1LowerW]].forEach(([u,w])=>{
    const lu=mk('polyline',{points:fig1Time.map((t,i)=>p.X(t)+','+p.Y(u[i])).join(' '),fill:'none',stroke:'#3050e0','stroke-width':0.6},p.g);
    
    
    const lw=mk('polyline',{points:fig1Time.map((t,i)=>p.X(t)+','+p.Y(w[i])).join(' '),fill:'none',stroke:'#e03030','stroke-width':0.6},p.g);
    
    
    fig1Time.forEach((t,i)=>{
      const s=marker(p.g,'s',p.X(t),p.Y(w[i]),2.6,'#e01818');
      
      
      const c=marker(p.g,'c',p.X(t),p.Y(u[i]),2.4,'#1a32d0');
      
      
    });
  });
  const a1=txt(p.g,1497,139,'P=5, T=0.89',11,'start');  
  const a2=txt(p.g,1542,269,'P=20, T=1.25',11,'start');  
  legendBox(p.g,1614,108,66,29,['ΔU circles','ΔW squares'],10);
  const yl=txt(p.g,1430,198,'Normalized fluctuations',10.5,'middle',{transform:'rotate(-90 1430 198)'});  
  const xl=txt(p.g,1609,318,'Time',12);  
})();

// ===== Fig 2 =====
function fig2(name,bx,by,x0,x1,y0,y1,bx_,bhi,blo,bcol,cx,chi,clo,ccol,fx,fy,xt,xl,yt,yl,info,ib,lb,ylx,showX){
  const p=panel(name,bx,by,280,228,x0,x1,y0,y1,xt,xl,yt,yl,11);
  band(p,bx_,bhi,blo,bcol,bcol,name+'-scatter-cloud');
  if(cx) band(p,cx,chi,clo,ccol,ccol,name+'-scatter-core');
  fit(p,fx,fy,name+'-fit-line');
  infoBox(p.g,ib[0],ib[1],ib[2],ib[3],info,13);
  legendBox(p.g,lb[0],lb[1],lb[2],lb[3],['○ P=5','△ P=10','□ P=20'],12);
  const yt_=txt(p.g,ylx,by+124,'ΔW(t)',12,'middle',{transform:`rotate(-90 ${ylx} ${by+124})`});  
  const xt_=txt(p.g,bx+142,by+254,'ΔU(t)',12);  
}
fig2('figure-2a-m8',1997,88,-0.25,0.3,-0.9,1.1,fig2aBandX,fig2aBandHi,fig2aBandLo,'#8a2a4a',null,null,null,null,fig2aFitX,fig2aFitY,fig2aXTicks,fig2aXLabels,fig2aYTicks,fig2aYLabels,['m = 8','Γ = 3.667 ± 0.002','R = 0.965'],[2020,103,109,49],[2193,226,45,44],1965);
fig2('figure-2b-m12',2412,88,-0.29,0.45,-1.8,2.4,fig2bBandX,fig2bBandHi,fig2bBandLo,'#9a2aa8',null,null,null,null,fig2bFitX,fig2bFitY,fig2bXTicks,fig2bXLabels,fig2bYTicks,fig2bYLabels,['m = 12','Γ = 5.095 ± 0.004','R = 0.934'],[2413,103,117,51],[2595,235,45,45],2359);
fig2('figure-2c-m24',1997,360,-0.3,0.3,-3,3,fig2cBandX,fig2cBandHi,fig2cBandLo,'#6a3aa8',fig2cCoreX,fig2cCoreHi,fig2cCoreLo,'#ff3a9a',fig2cFitX,fig2cFitY,fig2cXTicks,fig2cXLabels,fig2cYTicks,fig2cYLabels,['m = 24','Γ = 9.07 ± 0.01','R = 0.872'],[2014,378,93,47],[2203,507,44,41],1971);
fig2('figure-2d-m36',2412,360,-0.43,0.33,-6,5,fig2dBandX,fig2dBandHi,fig2dBandLo,'#4a8a8a',fig2dCoreX,fig2dCoreHi,fig2dCoreLo,'#9a2aa8',fig2dFitX,fig2dFitY,fig2dXTicks,fig2dXLabels,fig2dYTicks,fig2dYLabels,['m = 36','Γ = 12.209 ± 0.018','R = 0.827'],[2406,371,115,51],[2593,514,47,47],2367);

// ===== Fig 3 =====
(function(){
  const p=panel('figure-3-plot',2922,100,294,236,-0.55,0.6,-7.1,8,fig3XTicks,fig3XLabels,fig3YTicks,fig3YLabels,11);
  band(p,fig3BandX,fig3BandHi,fig3BandLo,'#2a8ab8','#2a8ab8','fig3-scatter-cloud');
  band(p,fig3CoreX,fig3CoreHi,fig3CoreLo,'#f59a30','#f59a30','fig3-scatter-core');
  fit(p,fig3FitX,fig3FitY,'fig3-fit-line');
  infoBox(p.g,2940,115,103,53,['m = 36','Γ = 13.16 ± 0.01','R=0.952'],13);
  legendBox(p.g,3127,251,46,32,['▽ P=30','◇ P=50'],11);
  const yl=txt(p.g,2900,218,'ΔW(t)',12,'middle',{transform:'rotate(-90 2900 218)'});  
  const xl=txt(p.g,3075,364,'ΔU(t)',12);  
})();

// ===== Fig 4 =====
(function(){
  const p=panel('figure-4-plot',2910,509,312,252,0.7,2.1,3.0,14.3,fig4XTicks,fig4XLabels,fig4YTicks,fig4YLabels,12);
  fig4Gamma.forEach((gm,i)=>{
    const l=mk('line',{x1:p.X(0.7),x2:p.X(2.1),y1:p.Y(gm),y2:p.Y(gm),stroke:fig4Colors[i],'stroke-width':0.9,'stroke-dasharray':'3 2'},p.g);
    
    
  });
  const lp=[[0.8,13.0],[0.95,8.3],[0.77,6.2],[0.85,4.0]];
  fig4Labels.forEach((s,i)=>{const t=txt(p.g,p.X(lp[i][0]),p.Y(lp[i][1]),s,12,'start',{fill:fig4Colors[i]});
    
    });
  const sets=[[fig4Rho36C,fig4G36C,'c',0],[fig4Rho36T,fig4G36T,'t',0],[fig4Rho36S,fig4G36S,'s',0],
    [fig4Rho24C,fig4G24C,'c',1],[fig4Rho24T,fig4G24T,'t',1],[fig4Rho24S,fig4G24S,'s',1],
    [fig4Rho12C,fig4G12C,'c',2],[fig4Rho12T,fig4G12T,'t',2],[fig4Rho12S,fig4G12S,'s',2],
    [fig4Rho8C,fig4G8C,'c',3],[fig4Rho8T,fig4G8T,'t',3],[fig4Rho8S,fig4G8S,'s',3]];
  sets.forEach(([xs,ys,sh,ci])=>{
    xs.forEach((x,i)=>{
      const m=marker(p.g,sh,p.X(x),p.Y(ys[i]),3.3,fig4Colors[ci]);
      
      
    });
  });
  legendBox(p.g,3150,550,72,50,['○  P=5','△  P=10','□  P=20'],12);
  const yl=txt(p.g,2884,650,'Γ',13);  
  const xl=txt(p.g,3068,796,'ρ',13);  
})();
</script>
</body></html>
